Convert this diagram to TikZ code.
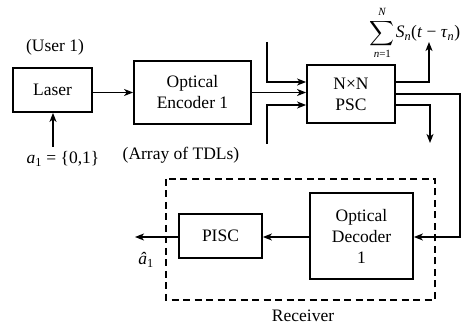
\documentclass[tikz,border=0pt]{standalone}
\usepackage{amsmath}
\usepackage{fontspec}
\setmainfont{Liberation Serif}
\newfontfamily\tms{Liberation Serif}
\usetikzlibrary{arrows.meta,calc}
\newcommand{\limtxt}[1]{\mbox{\tms\fontsize{11}{11}\selectfont #1}}
\begin{document}
\begin{tikzpicture}[x=1pt,y=-1pt,
  blk/.style={draw,line width=1.8pt,minimum width=#1,align=center,inner sep=0pt},
  conn/.style={line width=1.2pt},
  arr/.style={conn,-{Stealth[length=9pt,width=7pt,inset=2.5pt]}},
  lbl/.style={inner sep=0pt},
  every node/.style={font=\tms\fontsize{17.5}{21}\selectfont}]
\useasboundingbox (0,0) rectangle (467,326);
% blocks
\node[blk=79pt,minimum height=44pt] (laser) at (52.5,90) {Laser};
\node[blk=117pt,minimum height=63pt] (enc) at (192.5,92.5) {Optical\\Encoder 1};
\node[blk=88pt,minimum height=58pt] (psc) at (351,94) {N×N\\PSC};
\node[blk=103pt,minimum height=86pt] (dec) at (361.5,236) {Optical\\Decoder\\1};
\node[blk=83pt,minimum height=44pt] (pisc) at (220.5,236) {PISC};
\draw[line width=1.8pt,dash pattern=on 7pt off 4.5pt] (166,179) rectangle (435,300);
% labels
\node[lbl] (user) at (55,47) {(User 1)};
\node[lbl] (a1) at (63,159) {\textit{a}\textsubscript{1} = \{0,1\}};
\node[lbl] (tdl) at (181,155) {(Array of TDLs)};
\node[lbl] (sum) at (415,33) {$\displaystyle\sum\limits_{\limtxt{\textit{n}=1}}^{\limtxt{\textit{N}}}$\kern1pt\textit{S}\textsubscript{\textit{n}}(\textit{t} − \textit{τ}\textsubscript{\textit{n}})};
\node[lbl] (ahat) at (146,260) {\textit{â}\textsubscript{1}};
\node[lbl] (rx) at (303,316) {Receiver};
% coordinates
\coordinate (ain) at (53,147);
\coordinate (in1) at (267,42);
\coordinate (in3) at (267,144);
\coordinate (o1) at (429,42);
\coordinate (o3) at (430,143);
\coordinate (o2) at (460,94);
\coordinate (out) at (135,237);
% connectors
\draw[arr] (ain) -- (ain |- laser.south);
\draw[arr] (laser.east |- enc.west) -- (enc.west);
\draw[arr] (enc.east) -- (enc.east -| psc.west);
\draw[arr] (in1) |- ($(psc.west)+(0,-12)$);
\draw[arr] (in3) |- ($(psc.west)+(0,11)$);
\draw[arr] ($(psc.east)+(0,-12)$) -| (o1);
\draw[arr] ($(psc.east)+(0,11)$) -| (o3);
\draw[arr] (psc.east |- o2) -- (o2) |- (dec.east |- 0,237);
\draw[arr] (dec.west |- 0,237) -- (pisc.east |- 0,237);
\draw[arr] (pisc.west |- 0,237) -- (out);
\end{tikzpicture}
\end{document}
